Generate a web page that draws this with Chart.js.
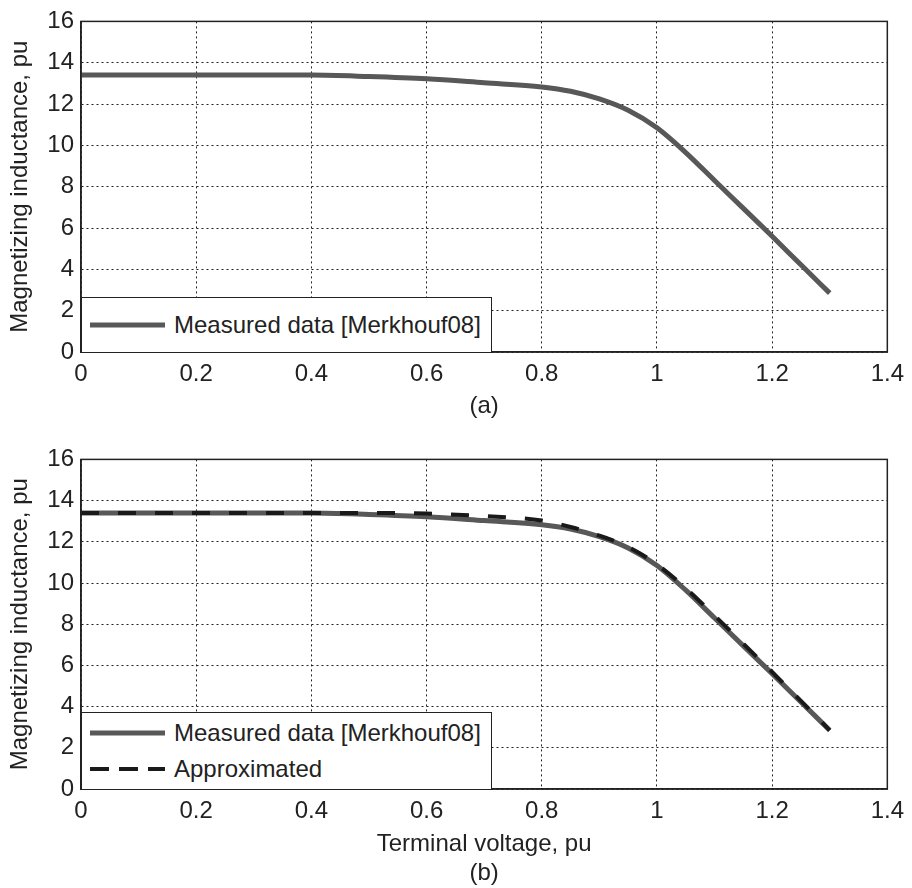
<!DOCTYPE html>
<html>
<head>
<meta charset="utf-8">
<script src="https://cdn.jsdelivr.net/npm/chart.js@4.4.0/dist/chart.umd.min.js"></script>
<style>
  body { margin: 0; background: #fff; }
  #wrap { position: relative; width: 912px; height: 888px; font-family: "Liberation Sans", Arial, sans-serif; }
  canvas { position: absolute; left: 0; }
  .legend { position: absolute; background: #fff; border: 1px solid #222; font-size: 24px; color: #222;
            box-sizing: border-box; padding-right: 10px; white-space: nowrap; }
  .legend .item { display: flex; align-items: center; height: 36px; }
  .legend svg { margin: 0 9px 0 8px; flex: none; }
</style>
</head>
<body>
<div id="wrap">
  <canvas id="chartA" width="912" height="430" style="top:0px"></canvas>
  <canvas id="chartB" width="912" height="450" style="top:438px"></canvas>
</div>
<script>
// terminal voltage, pu
var voltage = [0, 0.1, 0.2, 0.3, 0.4, 0.5, 0.6, 0.7, 0.8, 0.85, 0.9, 0.95, 1.0, 1.05, 1.1, 1.15, 1.2, 1.25, 1.3];
// magnetizing inductance, pu
var measured = [13.4, 13.4, 13.4, 13.4, 13.4, 13.33, 13.22, 13.03, 12.83, 12.62, 12.25, 11.7, 10.85, 9.65, 8.3, 6.95, 5.6, 4.22, 2.85];
var approximated = [13.4, 13.4, 13.4, 13.4, 13.4, 13.4, 13.37, 13.25, 13.03, 12.72, 12.3, 11.75, 10.9, 9.75, 8.42, 7.05, 5.68, 4.28, 2.85];

var xTickLabels = ['0', '0.2', '0.4', '0.6', '0.8', '1', '1.2', '1.4'];
var yTickLabels = ['0', '2', '4', '6', '8', '10', '12', '14', '16'];

var FONT = '"Liberation Sans", Arial, sans-serif';

function points(ys) {
    var pts = [];
    for (var i = 0; i < voltage.length; i++) pts.push({x: voltage[i], y: ys[i]});
    return pts;
}

var measuredSet = function () {
    return { label: 'Measured data [Merkhouf08]', data: points(measured), borderColor: '#585858',
             borderWidth: 5, pointRadius: 0, cubicInterpolationMode: 'monotone', fill: false, order: 1,
             legendDash: '', legendWidth: 5 };
};
// order 0 so the dashes sit on top of the grey line
var approxSet = { label: 'Approximated', data: points(approximated), borderColor: '#1a1a1a',
                  borderWidth: 4, borderDash: [18, 19], pointRadius: 0, cubicInterpolationMode: 'monotone',
                  fill: false, order: 0, legendDash: '19 10', legendWidth: 4 };

// box round the plot area like matlab
var framePlugin = {
    id: 'frame',
    afterDraw: function (chart) {
        var a = chart.chartArea, ctx = chart.ctx;
        ctx.save();
        ctx.strokeStyle = '#222';
        ctx.lineWidth = 1.5;
        ctx.strokeRect(a.left, a.top, a.right - a.left, a.bottom - a.top);
        ctx.restore();
    }
};

function makeChart(id, datasets, xTitle, axisHeight, titlePad) {
    var ctx = document.getElementById(id).getContext('2d');
    return new Chart(ctx, {
        type: 'line',
        data: { datasets: datasets },
        plugins: [framePlugin],
        options: {
            responsive: false,
            animation: false,
            layout: { padding: { top: 14, right: 22, left: 0, bottom: 0 } },
            plugins: { legend: { display: false }, tooltip: { enabled: false } },
            scales: {
                x: {
                    type: 'linear', min: 0, max: 1.4,
                    afterFit: function (s) { s.height = axisHeight; },
                    ticks: { stepSize: 0.2, padding: 8, color: '#222', maxRotation: 0,
                             font: { family: FONT, size: 24 },
                             callback: function (v, i) { return xTickLabels[i]; } },
                    grid: { color: '#222', drawTicks: false, lineWidth: 1 },
                    border: { display: true, color: '#222', width: 1.5, dash: [2, 3] },
                    title: { display: true, text: xTitle, color: '#222',
                             font: { family: FONT, size: 24, lineHeight: 29 / 24 },
                             padding: { top: 0, bottom: titlePad } }
                },
                y: {
                    min: 0, max: 16,
                    afterFit: function (s) { s.width = 81; },
                    ticks: { stepSize: 2, padding: 7, color: '#222',
                             font: { family: FONT, size: 24 },
                             callback: function (v, i) { return yTickLabels[i]; } },
                    grid: { color: '#222', drawTicks: false, lineWidth: 1 },
                    border: { display: true, color: '#222', width: 1.5, dash: [2, 3] },
                    title: { display: true, text: 'Magnetizing inductance, pu', color: '#222',
                             font: { family: FONT, size: 24, lineHeight: 1.2 },
                             padding: { top: 6, bottom: 0 } }
                }
            }
        }
    });
}

// html legend sitting in the lower left corner of the plot
function addLegend(chart, canvasTop, vpad) {
    var box = document.createElement('div');
    box.className = 'legend';
    box.style.paddingTop = vpad + 'px';
    box.style.paddingBottom = vpad + 'px';
    chart.data.datasets.forEach(function (ds) {
        var item = document.createElement('div');
        item.className = 'item';
        item.innerHTML = '<svg width="75" height="10"><line x1="0" y1="5" x2="75" y2="5" stroke="' + ds.borderColor +
            '" stroke-width="' + ds.legendWidth + '" stroke-dasharray="' + ds.legendDash + '"/></svg>' +
            '<span>' + ds.label + '</span>';
        box.appendChild(item);
    });
    document.getElementById('wrap').appendChild(box);
    var a = chart.chartArea;
    box.style.left = a.left + 'px';
    box.style.top = (canvasTop + a.bottom - box.offsetHeight + 1) + 'px';
}

var chartA = makeChart('chartA', [measuredSet()], '(a)', 430 - 352, 9);
var chartB = makeChart('chartB', [measuredSet(), approxSet], ['Terminal voltage, pu', '(b)'], 450 - (789 - 438), 0);

addLegend(chartA, 0, 9);
addLegend(chartB, 438, 2);
</script>
</body>
</html>
